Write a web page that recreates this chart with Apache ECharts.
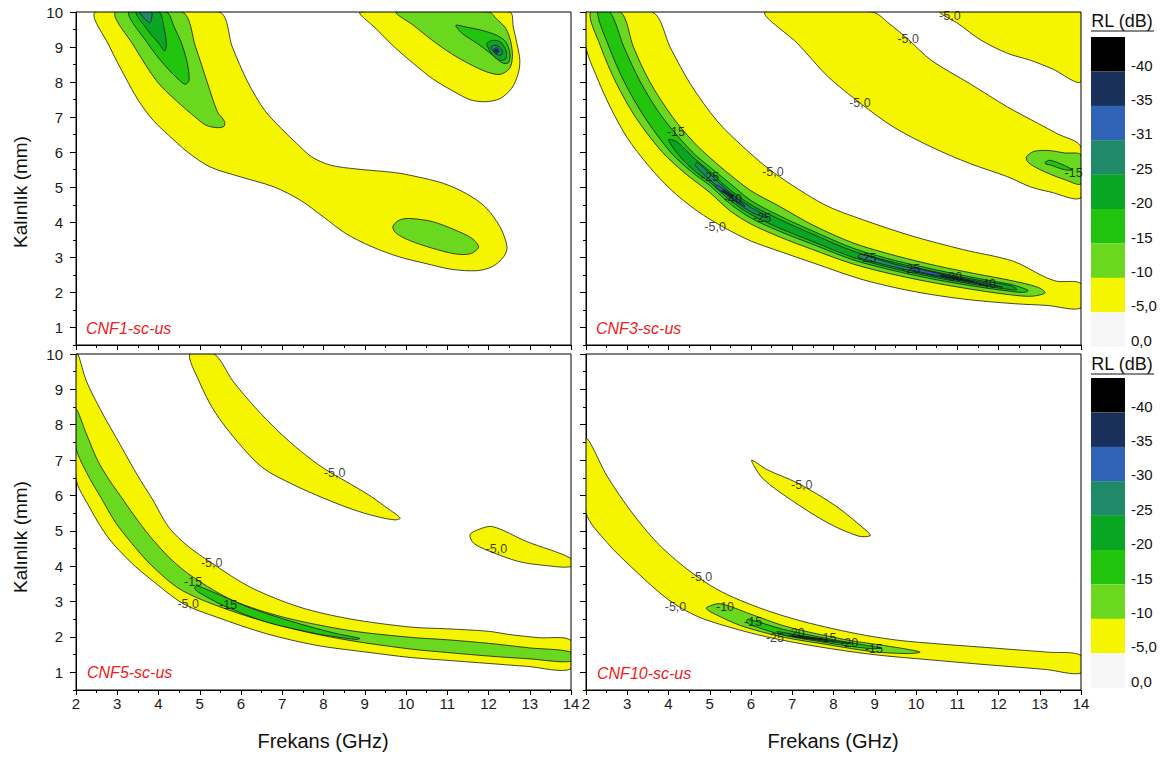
<!DOCTYPE html>
<html><head><meta charset="utf-8">
<script src="https://cdn.jsdelivr.net/npm/echarts@6/dist/echarts.min.js"></script>
<style>html,body{margin:0;padding:0;background:#fff}#c{width:1167px;height:760px}</style>
</head><body><div id="c"></div>
<script>
// ---------- axis ticks ----------
const xTicks = [2,3,4,5,6,7,8,9,10,11,12,13,14];
const yTicks = [1,2,3,4,5,6,7,8,9,10];
const yMinorTicks = [0.5,1.5,2.5,3.5,4.5,5.5,6.5,7.5,8.5,9.5];

// ---------- RL levels / legend ----------
const levels = [-5,-10,-15,-20,-25,-31,-35,-40];
const levelColors = ['#f5f500','#6ad81e','#22c40e','#09a624','#1e8a68','#2f63b6','#18305a','#000000'];
const legendColors = ['#000000','#18305a','#2f63b6','#1e8a68','#09a624','#22c40e','#6ad81e','#f5f500','#f6f6f6'];
const legendLabelsTop = ['-40','-35','-31','-25','-20','-15','-10','-5,0','0,0'];
const legendLabelsBottom = ['-40','-35','-30','-25','-20','-15','-10','-5,0','0,0'];
const panelNames = ['CNF1-sc-us','CNF3-sc-us','CNF5-sc-us','CNF10-sc-us'];

// ---------- CNF1 contour regions [GHz, mm] ----------
const c1_a5 = [[2.48,10],[2.82,9.0],[3.19,8.15],[3.51,7.48],[3.87,6.91],[4.24,6.49],[4.70,6.01],[5.25,5.58],[5.98,5.30],[6.80,5.01],[7.44,4.63],[7.99,4.16],[8.54,3.68],[9.18,3.30],[9.82,3.02],[10.46,2.83],[11.10,2.66],[11.73,2.62],[12.10,2.74],[12.37,3.02],[12.45,3.30],[12.28,3.87],[11.92,4.44],[11.46,4.82],[10.91,5.11],[10.27,5.30],[9.72,5.42],[8.81,5.52],[8.17,5.63],[7.71,5.87],[7.35,6.25],[6.94,6.72],[6.57,7.20],[6.16,8.01],[5.79,9.00],[5.47,10]];
const c1_b5 = [[8.90,10],[9.27,9.53],[9.72,9.00],[10.18,8.53],[10.64,8.10],[11.10,7.77],[11.55,7.50],[11.92,7.44],[12.28,7.53],[12.56,7.82],[12.72,8.24],[12.76,8.62],[12.69,9.10],[12.60,9.57],[12.51,10]];
const c1_a10 = [[2.96,10],[3.42,9.0],[3.97,8.01],[4.42,7.48],[4.88,7.01],[5.15,6.77],[5.43,6.70],[5.59,6.74],[5.60,6.88],[5.43,7.15],[5.18,8.0],[4.90,9.0],[4.58,10]];
const c1_b10 = [[9.77,10],[10.18,9.62],[10.64,9.19],[11.10,8.81],[11.55,8.51],[11.96,8.29],[12.28,8.22],[12.51,8.39],[12.58,8.72],[12.54,9.15],[12.42,9.53],[12.19,9.81],[12.01,10]];
const c1_c10 = [[9.68,3.87],[9.83,4.06],[10.09,4.11],[10.64,4.02],[11.19,3.78],[11.60,3.54],[11.76,3.29],[11.55,3.10],[11.19,3.10],[10.64,3.26],[10.09,3.48],[9.77,3.68]];
const c1_a15 = [[3.28,10],[3.74,9.10],[4.15,8.48],[4.51,8.05],[4.65,7.94],[4.74,8.05],[4.70,8.53],[4.56,9.10],[4.38,9.57],[4.19,10]];
const c1_b15 = [[11.21,9.62],[11.37,9.38],[11.73,9.10],[12.10,8.77],[12.33,8.55],[12.48,8.55],[12.52,8.81],[12.42,9.15],[12.19,9.34],[11.83,9.48],[11.46,9.57]];
const c1_a20 = [[3.46,10],[3.74,9.48],[4.01,9.10],[4.15,8.89],[4.19,9.10],[4.13,9.57],[4.01,10]];
const c1_b20 = [[11.96,9.10],[12.10,9.19],[12.28,9.15],[12.42,8.91],[12.42,8.67],[12.28,8.62],[12.10,8.77]];
const c1_a25 = [[3.55,10],[3.78,9.69],[3.83,9.81],[3.83,10]];
const c1_b25 = [[12.06,9.00],[12.19,9.05],[12.33,8.91],[12.30,8.77],[12.17,8.81]];
const c1_b31 = [[12.12,8.93],[12.21,8.98],[12.26,8.86],[12.17,8.83]];
const c1_b35 = [[12.15,8.91],[12.21,8.93],[12.22,8.87],[12.16,8.86]];

// ---------- CNF3 ----------
const c3_a5 = [[2,10],[2,9.0],[2.27,8.12],[2.60,7.26],[3.00,6.41],[3.49,5.65],[4.05,4.94],[4.70,4.32],[5.35,3.85],[5.99,3.47],[6.70,3.17],[7.51,2.84],[8.72,2.36],[9.93,2.03],[11.15,1.81],[12.36,1.68],[13.17,1.63],[14,1.56],[14,2.25],[13.41,2.32],[13.09,2.46],[12.36,2.89],[11.15,3.22],[9.93,3.60],[8.72,4.07],[7.77,4.51],[6.56,5.41],[5.83,6.13],[5.18,6.89],[4.54,7.93],[4.05,8.97],[3.61,10]];
const c3_b5 = [[6.35,10],[7.13,9.10],[7.87,8.15],[8.66,7.39],[9.45,6.72],[10.37,6.15],[11.30,5.68],[12.22,5.30],[12.78,5.01],[13.24,4.87],[14,4.71],[14,6.15],[13.42,6.53],[12.96,6.82],[12.22,7.29],[11.30,7.96],[10.37,8.62],[9.82,9.21],[9.35,9.67],[8.94,10]];
const c3_c5 = [[10.60,10],[11.02,9.67],[11.57,9.20],[12.22,8.82],[12.78,8.62],[13.30,8.38],[14,8.02],[14,10]];
const c3_a10 = [[2.11,10],[2.36,9.0],[2.72,8.0],[3.20,7.0],[3.85,6.0],[4.40,5.40],[5.0,4.85],[5.5,4.32],[6.0,3.95],[6.7,3.58],[7.5,3.22],[8.5,2.80],[9.5,2.50],[10.5,2.26],[11.5,2.06],[12.3,1.93],[12.8,1.89],[13.13,1.99],[12.95,2.15],[12.3,2.34],[11.5,2.52],[10.5,2.76],[9.5,3.05],[8.5,3.40],[7.5,3.92],[6.7,4.45],[6.0,4.90],[5.5,5.35],[5.0,5.85],[4.60,6.30],[4.10,7.0],[3.55,8.0],[3.15,9.0],[2.84,10]];
const c3_d10 = [[12.68,5.87],[12.85,6.02],[13.2,6.05],[13.6,5.98],[14,5.92],[14,5.10],[13.6,5.22],[13.2,5.40],[12.85,5.60],[12.70,5.74]];
const c3_a15 = [[2.28,10],[2.56,9.0],[2.93,8.0],[3.42,7.0],[4.05,6.0],[4.55,5.45],[5.0,5.05],[5.5,4.52],[6.0,4.12],[6.7,3.74],[7.5,3.37],[8.5,2.92],[9.5,2.61],[10.5,2.36],[11.5,2.16],[12.3,2.03],[12.6,2.00],[12.72,2.05],[12.55,2.14],[12.3,2.23],[11.5,2.40],[10.5,2.64],[9.5,2.91],[8.5,3.25],[7.5,3.75],[6.7,4.18],[6.0,4.62],[5.5,5.10],[5.0,5.58],[4.58,6.0],[3.85,7.0],[3.32,8.0],[2.92,9.0],[2.58,10]];
const c3_d15 = [[13.13,5.71],[13.25,5.77],[13.6,5.62],[13.78,5.50],[13.6,5.50],[13.25,5.64],[13.15,5.66]];
const c3_a20 = [[4.0,6.35],[4.3,5.85],[4.7,5.40],[5.0,5.15],[5.5,4.62],[6.0,4.22],[6.7,3.83],[7.5,3.45],[8.5,2.99],[9.5,2.67],[10.5,2.42],[11.5,2.21],[12.3,2.08],[12.45,2.08],[12.3,2.19],[11.5,2.35],[10.5,2.58],[9.5,2.85],[8.5,3.17],[7.5,3.66],[6.7,4.08],[6.0,4.50],[5.5,4.92],[5.0,5.45],[4.6,5.85],[4.2,6.3]];
const c3_t1 = [[4.65,5.62],[5.0,5.22],[5.5,4.70],[6.0,4.30],[6.40,4.12],[6.35,4.20],[6.0,4.42],[5.5,4.84],[5.0,5.38],[4.70,5.70]];
const c3_t2 = [[8.6,3.0],[9.5,2.72],[10.5,2.46],[11.5,2.25],[12.1,2.15],[11.5,2.31],[10.5,2.54],[9.5,2.80],[8.65,3.09]];
const c3_p1 = [[5.15,5.0],[5.5,4.73],[5.85,4.45],[5.8,4.53],[5.5,4.81],[5.18,5.06]];
const c3_p2 = [[9.9,2.64],[10.7,2.44],[11.6,2.24],[10.7,2.50],[9.9,2.70]];
const c3_n1 = [[5.3,4.88],[5.55,4.72],[5.52,4.78],[5.32,4.92]];
const c3_n2 = [[10.6,2.47],[11.4,2.29],[10.6,2.51]];

// ---------- CNF5 ----------
const c5_a5 = [[2,10],[2.05,10],[2.25,9.24],[2.61,8.39],[3.07,7.44],[3.50,6.55],[3.85,5.90],[4.25,5.10],[4.70,4.58],[5.29,4.09],[6.22,3.41],[7.43,2.84],[8.64,2.51],[10.10,2.28],[11.0,2.23],[12.0,2.16],[12.5,2.07],[13.2,1.98],[14,1.90],[14,1.10],[12.92,1.17],[12.01,1.25],[11.10,1.33],[10.10,1.42],[9.05,1.57],[7.84,1.76],[6.62,2.09],[5.41,2.56],[4.60,2.94],[3.79,3.65],[3.34,4.10],[2.79,4.79],[2.34,5.64],[2,6.50]];
const c5_b5 = [[4.76,10],[4.98,9.24],[5.35,8.39],[5.90,7.54],[6.53,6.78],[7.26,6.31],[7.99,5.93],[8.72,5.60],[9.27,5.41],[9.73,5.31],[9.86,5.36],[9.55,5.64],[9.09,6.02],[8.54,6.40],[7.99,6.78],[7.45,7.25],[6.90,7.82],[6.35,8.48],[5.80,9.24],[5.35,10]];
const c5_c5 = [[11.55,4.89],[11.74,5.03],[12.10,5.12],[12.92,4.70],[14,4.22],[14,3.99],[13.38,4.02],[12.74,4.13],[12.01,4.43],[11.64,4.65]];
const c5_a10 = [[2,8.44],[2.25,7.75],[2.52,7.0],[2.80,6.45],[3.07,6.0],[3.40,5.45],[3.79,4.85],[4.3,4.20],[4.84,3.69],[5.81,3.03],[7.03,2.56],[8.64,2.18],[10.10,1.99],[11.0,1.92],[12.0,1.82],[13.0,1.69],[14,1.57],[14,1.31],[13.0,1.38],[12.0,1.46],[11.0,1.56],[10.10,1.66],[8.64,1.90],[7.43,2.18],[6.22,2.56],[5.09,3.03],[4.44,3.41],[3.79,4.07],[3.35,4.65],[2.95,5.25],[2.60,5.95],[2.30,6.55],[2,7.35]];
const c5_a15 = [[4.92,3.45],[5.5,3.18],[6.22,2.82],[7.0,2.52],[7.67,2.29],[8.3,2.10],[8.88,1.96],[8.80,1.93],[8.2,2.02],[7.84,2.09],[6.62,2.42],[5.57,2.89],[4.95,3.28],[4.88,3.38]];

// ---------- CNF10 ----------
const c10_a5 = [[2,7.60],[2.51,6.55],[3.06,5.60],[3.71,4.68],[4.36,4.00],[5.01,3.46],[5.57,3.12],[6.38,2.75],[7.19,2.46],[8.0,2.23],[8.80,2.04],[9.61,1.90],[10.58,1.80],[11.5,1.72],[12.4,1.64],[13.2,1.57],[14,1.48],[14,0.98],[13.15,1.08],[11.76,1.21],[10.37,1.35],[8.98,1.50],[7.60,1.73],[6.39,2.00],[5.47,2.28],[4.7,2.58],[4.0,3.05],[3.16,3.91],[2.51,4.67],[2,5.52]];
const c10_b5 = [[6.02,7.0],[6.39,6.73],[7.13,6.35],[8.06,5.70],[8.85,4.95],[8.89,4.86],[8.61,4.85],[7.87,5.22],[6.95,5.89],[6.30,6.46],[6.07,6.84]];
const c10_a10 = [[4.93,2.84],[5.25,2.94],[5.98,2.65],[6.78,2.32],[7.59,2.09],[8.40,1.90],[9.21,1.76],[9.8,1.65],[10.10,1.57],[9.8,1.53],[8.98,1.58],[7.87,1.78],[6.76,2.00],[5.75,2.32],[5.10,2.66],[4.93,2.78]];
const c10_a15 = [[5.93,2.50],[6.76,2.22],[7.87,1.95],[8.80,1.76],[9.17,1.68],[8.80,1.68],[7.87,1.83],[6.76,2.06],[6.02,2.33],[5.89,2.42]];
const c10_a20 = [[6.63,2.15],[7.2,2.04],[7.87,1.92],[8.43,1.81],[7.87,1.87],[7.2,1.98],[6.70,2.08]];
const c10_a25 = [[6.95,2.05],[7.45,1.98],[7.9,1.90],[7.45,1.95],[6.97,2.02]];
const c10_a35 = [[7.1,2.02],[7.5,1.965],[7.8,1.92],[7.5,1.955],[7.1,2.0]];

// ---------- contour line labels [GHz, mm, text] ----------
const cnf1Labels = [];
const cnf3Labels = [[4.18,6.58,'-15'],[5.01,5.30,'-25'],[5.56,4.66,'-40'],[6.27,4.13,'-25'],[5.13,3.87,'-5,0'],[6.53,5.44,'-5,0'],[8.64,7.41,'-5,0'],[9.81,9.24,'-5,0'],[10.82,9.90,'-5,0'],[13.82,5.42,'-15'],[8.82,2.99,'-25'],[9.88,2.68,'-25'],[10.9,2.44,'-30'],[11.72,2.25,'-40']];
const cnf5Labels = [[8.27,6.64,'-5,0'],[12.19,4.49,'-5,0'],[5.29,4.09,'-5,0'],[4.84,3.55,'-15'],[4.72,2.94,'-5,0'],[5.69,2.89,'-15']];
const cnf10Labels = [[7.23,6.30,'-5,0'],[4.80,3.69,'-5,0'],[4.17,2.85,'-5,0'],[5.37,2.84,'-10'],[6.05,2.42,'-15'],[6.58,1.98,'-25'],[7.08,2.12,'-20'],[7.85,1.96,'-15'],[8.38,1.84,'-20'],[8.98,1.67,'-15']];

const panelRegions = [
  [[-5,c1_a5],[-5,c1_b5],[-10,c1_a10],[-10,c1_b10],[-10,c1_c10],[-15,c1_a15],[-15,c1_b15],[-20,c1_a20],[-20,c1_b20],[-25,c1_a25],[-25,c1_b25],[-31,c1_b31],[-35,c1_b35]],
  [[-5,c3_a5],[-5,c3_b5],[-5,c3_c5],[-10,c3_a10],[-10,c3_d10],[-15,c3_a15],[-15,c3_d15],[-20,c3_a20],[-25,c3_t1],[-25,c3_t2],[-31,c3_p1],[-31,c3_p2],[-35,c3_n1],[-35,c3_n2]],
  [[-5,c5_a5],[-5,c5_b5],[-5,c5_c5],[-10,c5_a10],[-15,c5_a15]],
  [[-5,c10_a5],[-5,c10_b5],[-10,c10_a10],[-15,c10_a15],[-20,c10_a20],[-25,c10_a25],[-35,c10_a35]]
];
const panelLabels = [cnf1Labels, cnf3Labels, cnf5Labels, cnf10Labels];

// ---------- layout ----------
const FONT = "'Liberation Sans', Arial, sans-serif";
const grids = [
  {left:76, top:12, width:495, height:333},
  {left:586, top:12, width:495, height:333},
  {left:76, top:354, width:495, height:336},
  {left:586, top:354, width:495, height:336}
];
const colorOf = lv => levelColors[levels.indexOf(lv)];

const xAxes = grids.map((g,i)=>({
  gridIndex:i, type:'value', min:2, max:14, interval:1,
  axisLine:{show:true,lineStyle:{color:'#000',width:1}},
  axisTick:{show:true,length:5,lineStyle:{color:'#000'}},
  minorTick:{show:true,splitNumber:2,length:3,lineStyle:{color:'#000'}},
  axisLabel:{show:i>=2, customValues:xTicks, margin:6, fontSize:15, color:'#1a1a24', fontFamily:FONT, showMinLabel:true, showMaxLabel:true},
  splitLine:{show:false}
}));
const yAxes = grids.map((g,i)=>({
  gridIndex:i, type:'value', min:0.5, max:10, position:'left',
  axisLine:{show:true,lineStyle:{color:'#000',width:1}},
  axisTick:{show:true,customValues:yTicks,length:6,lineStyle:{color:'#000'}},
  axisLabel:{show:i%2===0, customValues:yTicks, margin:13, fontSize:15, color:'#1a1a24', fontFamily:FONT},
  splitLine:{show:false}
})).concat(grids.map((g,i)=>({
  gridIndex:i, type:'value', min:0.5, max:10, position:'left', offset:0,
  axisLine:{show:false},
  axisTick:{show:true,customValues:yMinorTicks,length:3,lineStyle:{color:'#000'}},
  axisLabel:{show:false},
  splitLine:{show:false}
})));

const series = [];
panelRegions.forEach((regs,i)=>{
  series.push({
    type:'custom', xAxisIndex:i, yAxisIndex:i, clip:true, silent:true, z:2,
    data: regs.map((r,k)=>[r[1][0][0], r[1][0][1], k]),
    renderItem:(params,api)=>{
      const r = regs[params.dataIndex];
      const pts = r[1].map(p=>api.coord(p));
      return {type:'polygon', shape:{points:pts, smooth:0.3},
        style:{fill:colorOf(r[0]), stroke:'#1a1a1a', lineWidth:0.8}};
    }
  });
  series.push({
    type:'scatter', xAxisIndex:i, yAxisIndex:i, silent:true, z:5,
    symbol:'circle', symbolSize:1, itemStyle:{color:'rgba(0,0,0,0)'},
    data: panelLabels[i].map(l=>[l[0],l[1],l[2]]),
    label:{show:true, position:'inside', formatter:p=>p.value[2], fontSize:12.5, color:'#111', fontFamily:FONT}
  });
});

const graphic = [];
grids.forEach((g,i)=>{
  graphic.push({type:'rect', z:100, shape:{x:g.left,y:g.top,width:g.width,height:g.height}, style:{fill:'none',stroke:'#000',lineWidth:1}});
});
const nameXY = [[86,328],[596,328],[87,672],[597,673]];
panelNames.forEach((n,i)=>{
  graphic.push({type:'text', z:100, x:nameXY[i][0], y:nameXY[i][1], style:{text:n, fill:'#f02020', font:"italic 16px "+FONT, align:'left', verticalAlign:'middle'}});
});
graphic.push({type:'text', z:100, x:20, y:192, rotation:Math.PI/2, style:{text:'Kalınlık (mm)', fill:'#111', font:"19px "+FONT, align:'center', verticalAlign:'middle'}});
graphic.push({type:'text', z:100, x:20, y:537, rotation:Math.PI/2, style:{text:'Kalınlık (mm)', fill:'#111', font:"19px "+FONT, align:'center', verticalAlign:'middle'}});
graphic.push({type:'text', z:100, x:323, y:741, style:{text:'Frekans (GHz)', fill:'#111', font:"20px "+FONT, align:'center', verticalAlign:'middle'}});
graphic.push({type:'text', z:100, x:833, y:741, style:{text:'Frekans (GHz)', fill:'#111', font:"20px "+FONT, align:'center', verticalAlign:'middle'}});

function addLegend(top, titleY, labels){
  graphic.push({type:'text', z:100, x:1122, y:titleY, style:{text:'RL (dB)', fill:'#111', font:"18px "+FONT, align:'center', verticalAlign:'middle'}});
  graphic.push({type:'line', z:100, shape:{x1:1091,y1:titleY+10,x2:1154,y2:titleY+10}, style:{stroke:'#111',lineWidth:1}});
  legendColors.forEach((c,k)=>{
    graphic.push({type:'rect', z:100, shape:{x:1091,y:top+k*34.4,width:34,height:34.6}, style:{fill:c}});
    graphic.push({type:'text', z:100, x:1131, y:top+k*34.4+28, style:{text:labels[k], fill:'#111', font:"15px "+FONT, align:'left', verticalAlign:'middle'}});
  });
}
addLegend(37, 21, legendLabelsTop);
addLegend(378, 364, legendLabelsBottom);

const chart = echarts.init(document.getElementById('c'), null, {renderer:'svg'});
chart.setOption({
  animation:false,
  backgroundColor:'#ffffff',
  grid: grids.map(g=>Object.assign({containLabel:false, show:false}, g)),
  xAxis: xAxes,
  yAxis: yAxes,
  series: series,
  graphic: graphic
});
</script>
</body></html>
